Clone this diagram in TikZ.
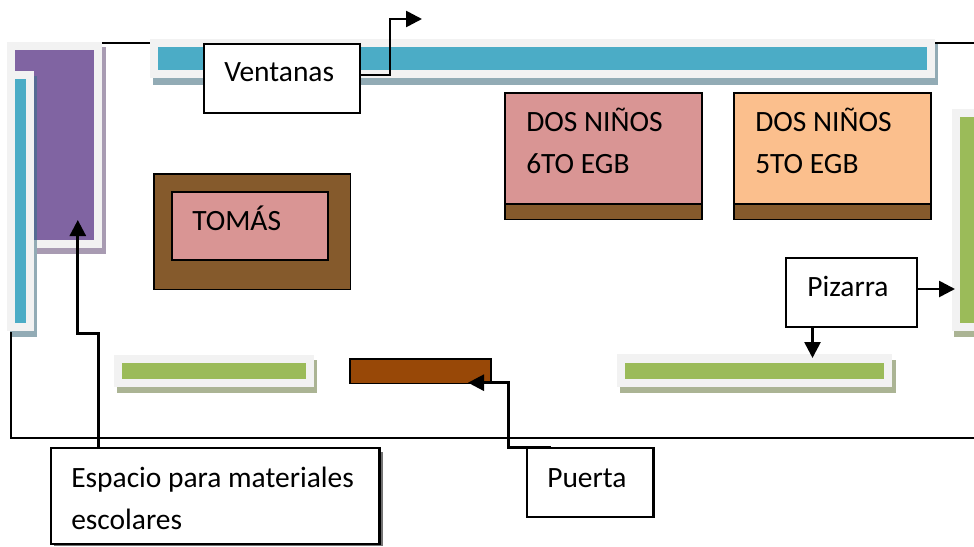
\documentclass[tikz,border=0pt]{standalone}
\usepackage{fontspec}
\setmainfont{Carlito}
\usetikzlibrary{arrows.meta}
\definecolor{frameg}{HTML}{F2F2F2}
\definecolor{teal}{HTML}{4BACC6}
\definecolor{tealsh}{HTML}{92ABB5}
\definecolor{purp}{HTML}{8064A2}
\definecolor{purpsh}{HTML}{A89BB2}
\definecolor{overlap}{HTML}{566B94}
\definecolor{greenb}{HTML}{9BBB59}
\definecolor{greensh}{HTML}{ABB494}
\definecolor{brownb}{HTML}{855A2C}
\definecolor{pinkb}{HTML}{D99594}
\definecolor{orangeb}{HTML}{FBBF8D}
\definecolor{doorb}{HTML}{984807}
\tikzset{
  wall/.style={line width=1.5pt,draw=black},
  link/.style={line width=2pt,draw=black,-{Triangle[length=12pt,width=12pt]}},
  callout/.style={draw=black,line width=1.7pt,fill=white},
  label/.style={anchor=base west,inner sep=0pt,font=\fontsize{22.1pt}{26pt}\selectfont},
  box/.style={draw=black,line width=1.4pt},
}
\begin{document}
\begin{tikzpicture}[x=0.75pt,y=-0.75pt]
\useasboundingbox (0,0) rectangle (974,546);
\fill[white] (0,0) rectangle (974,546);
% purple cupboard
\fill[purpsh] (13,47) rectangle (105.5,254);
\fill[frameg] (7,42) rectangle (102,248);
\fill[purp] (15,50) rectangle (94,240);
% left window
\fill[overlap] (34,76) rectangle (36.5,240);
\fill[tealsh] (34,240) rectangle (36.5,337);
\fill[tealsh] (10,331) rectangle (36.5,337);
\fill[frameg] (7,71) rectangle (34,331);
\fill[teal] (15,79) rectangle (26,323);
% top window
\fill[tealsh] (153,44) rectangle (938,84.5);
\fill[frameg] (150,39) rectangle (934.5,78);
\fill[teal] (158,47) rectangle (927,70);
% right board
\fill[greensh] (953.5,114) rectangle (974,337);
\fill[frameg] (952,109) rectangle (974,331);
\fill[greenb] (959.5,117) rectangle (974,323);
% bottom boards
\fill[greensh] (116.5,360) rectangle (316.5,392.5);
\fill[frameg] (114,355) rectangle (314,387);
\fill[greenb] (122,362.5) rectangle (306,379);
\fill[greensh] (619.5,360) rectangle (895.5,392.5);
\fill[frameg] (617,354) rectangle (892,387);
\fill[greenb] (625,362.5) rectangle (884,379);
% walls
\coordinate (wallA) at (102,43); \coordinate (wallB) at (150,43);
\coordinate (wallC) at (935,43); \coordinate (wallD) at (974,43);
\coordinate (wallE) at (11,332); \coordinate (wallF) at (11,438); \coordinate (wallG) at (974,438);
\draw[wall] (wallA) -- (wallB);
\draw[wall] (wallC) -- (wallD);
\draw[wall] (wallE) -- (wallF) -- (wallG);
% door
\node[box,fill=doorb,anchor=north west,outer sep=0pt,minimum width=105.6pt,minimum height=18.5pt,inner sep=0pt] (door) at (350.3,358.8) {};
% Tomas desk
\path[box,fill=brownb] (154,174) rectangle (350.5,289.5);
\path[box,fill=pinkb] (172,191.8) rectangle (328,260);
\node[label] (tomas) at (192,230) {TOMÁS};
% six grade desk
\path[box,fill=pinkb] (505,93) rectangle (702,204);
\path[box,fill=brownb] (505,204) rectangle (702,219.5);
\node[label] (sixa) at (526,131) {DOS NIÑOS};
\node[label] (sixb) at (526,173) {6TO EGB};
% five grade desk
\path[box,fill=orangeb] (734,93) rectangle (931,204);
\path[box,fill=brownb] (734,204) rectangle (931,219.5);
\node[label] (fivea) at (755,131) {DOS NIÑOS};
\node[label] (fiveb) at (755,173) {5TO EGB};
% Ventanas
\path[callout] (204,43.8) rectangle (360,112.8);
\node[label] (vent) at (224,81) {Ventanas};
\coordinate (vout) at (360,75); \coordinate (vtip) at (422,19);
\draw[link] (vout) -- (390,75) -- (390,19) -- (vtip);
% Pizarra
\path[callout] (786,258) rectangle (917,327);
\node[label] (piz) at (807,296) {Pizarra};
\coordinate (pr) at (917,289); \coordinate (prt) at (955,289);
\coordinate (pd) at (812.5,327); \coordinate (pdt) at (812.5,358);
\draw[link] (pr) -- (prt);
\draw[link] (pd) -- (pdt);
% Espacio
\fill[black!55] (54,452) rectangle (383.3,546);
\path[callout] (51,448) rectangle (379.5,544);
\node[label] (espa) at (71,487) {Espacio para materiales};
\node[label] (espb) at (71,529) {escolares};
\coordinate (eo) at (98.4,448); \coordinate (et) at (77.8,220);
\draw[link] (eo) -- (98.4,333.5) -- (77.8,333.5) -- (et);
% Puerta
\path[callout] (526.7,447.7) rectangle (653.5,516.7);
\node[label] (puer) at (547,487) {Puerta};
\coordinate (po) at (551,447.7); \coordinate (pt) at (468,382.7);
\draw[link] (po) -- (508.7,447.7) -- (508.7,382.7) -- (pt);
\end{tikzpicture}
\end{document}
